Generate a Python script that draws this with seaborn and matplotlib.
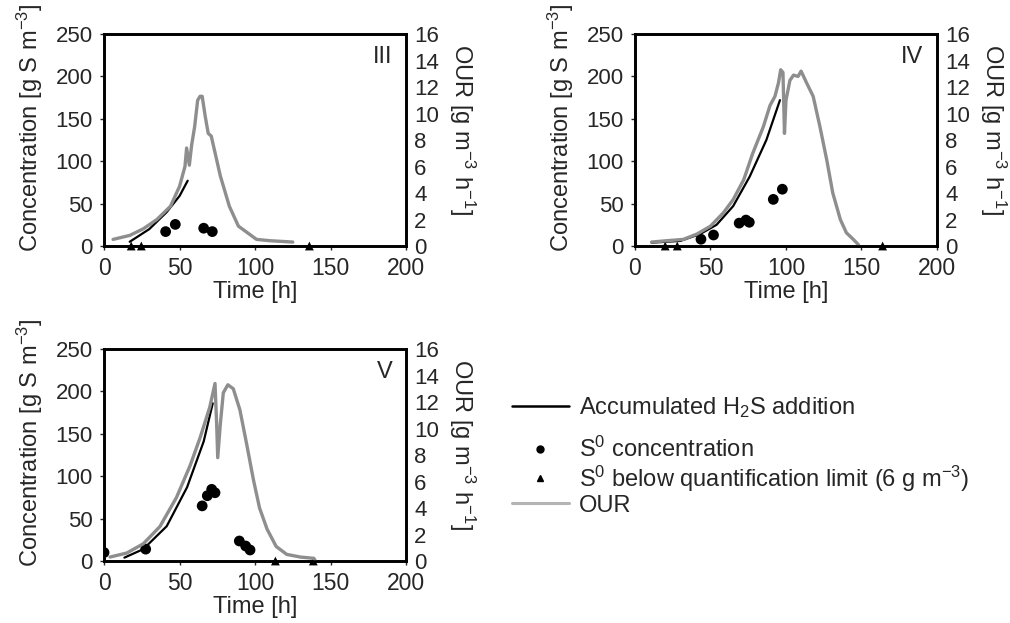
import seaborn as sns
import matplotlib.pyplot as plt
from matplotlib.lines import Line2D

# ---- data ----
# panel III
t_our_3 = [6, 17, 26, 35, 44, 50, 53.6, 54.7, 56.5, 58, 60, 62, 63.6, 65, 67, 69, 71, 72.4, 77, 83, 89, 95, 101, 110, 125]
our_3 = [0.5, 0.8, 1.3, 2.0, 3.0, 4.5, 6.0, 7.4, 6.1, 7.6, 9.0, 11.0, 11.3, 11.3, 9.8, 8.5, 8.3, 7.6, 5.3, 3.0, 1.5, 1.0, 0.5, 0.4, 0.3]
t_h2s_3 = [17, 30, 41.5, 50, 55.4]
h2s_3 = [5, 20, 40, 59, 77]
t_s0_3 = [40.8, 47.2, 66, 71.7]
s0_3 = [17, 25.5, 21, 17]
t_bql_3 = [18, 24.7, 136]

# panel IV
t_our_4 = [11, 21, 32, 41, 50, 58.5, 65, 72, 78, 85, 89.4, 92.7, 95, 96.5, 98, 99, 100, 102.6, 105, 108, 110, 113.7, 118, 122.5, 127, 131, 136, 140, 144.6, 148]
our_4 = [0.3, 0.4, 0.5, 0.9, 1.5, 2.5, 3.5, 5.0, 7.0, 9.0, 10.6, 11.3, 12.3, 13.3, 13.1, 8.5, 11.0, 12.5, 12.9, 12.8, 13.2, 12.3, 11.3, 9.0, 6.5, 4.0, 2.0, 1.0, 0.5, 0.1]
t_h2s_4 = [11, 30, 43, 54, 65, 76, 87, 96]
h2s_4 = [4, 6, 14, 25, 47, 82, 125, 172]
t_s0_4 = [43.7, 52, 69, 73.5, 75.7, 91.6, 97.6]
s0_4 = [8, 13, 27, 30.6, 28, 55, 67]
t_bql_4 = [20, 28, 164]

# panel V
t_our_5 = [4, 15, 26, 37, 48, 57, 63.6, 70, 73.5, 74.6, 75.3, 77, 79, 82, 85.6, 90, 94.5, 99, 103, 108, 114, 121, 130, 139, 140]
our_5 = [0.3, 0.6, 1.3, 2.6, 4.8, 7.2, 9.3, 11.6, 13.4, 10.3, 7.8, 10.3, 12.7, 13.3, 13.0, 11.4, 8.8, 6.1, 4.0, 2.4, 1.1, 0.5, 0.3, 0.2, 0.0]
t_h2s_5 = [13.5, 26, 41.5, 55, 66, 72]
h2s_5 = [4, 14, 41, 87, 141, 186]
t_s0_5 = [0, 27.6, 65, 68.4, 71.3, 73.5, 89.6, 93.8, 96.7]
s0_5 = [10, 14, 65, 77, 84.5, 80.5, 23.6, 17.7, 13]
t_bql_5 = [113.5, 138.6]

panel_names = ["III", "IV", "V"]

sns.set_style("ticks")
plt.rcParams.update({
    "font.family": ["Liberation Sans", "DejaVu Sans"],
    "mathtext.fontset": "custom",
    "mathtext.rm": "Liberation Sans",
    "mathtext.it": "Liberation Sans:italic",
    "font.size": 16,
})

our_col = "#8e8e8e"
fig = plt.figure(figsize=(10.1, 6.23), dpi=100)

positions = [
    [0.1030, 0.6051, 0.2990, 0.3403],
    [0.6287, 0.6051, 0.2990, 0.3403],
    [0.1030, 0.0995, 0.2990, 0.3403],
]
panels = [
    (t_our_3, our_3, t_h2s_3, h2s_3, t_s0_3, s0_3, t_bql_3),
    (t_our_4, our_4, t_h2s_4, h2s_4, t_s0_4, s0_4, t_bql_4),
    (t_our_5, our_5, t_h2s_5, h2s_5, t_s0_5, s0_5, t_bql_5),
]

for pos, name, (t_our, our, t_h2s, h2s, t_s0, s0, t_bql) in zip(positions, panel_names, panels):
    ax = fig.add_axes(pos)
    sns.lineplot(x=t_h2s, y=h2s, ax=ax, color="black", linewidth=1.6)
    sns.scatterplot(x=t_s0, y=s0, ax=ax, color="black", s=60, marker="o", edgecolor="none", zorder=3)
    sns.scatterplot(x=t_bql, y=[0] * len(t_bql), ax=ax, color="black", s=40, marker="^",
                    edgecolor="none", clip_on=False, zorder=4)
    ax.set_xlim(0, 200)
    ax.set_ylim(0, 250)
    ax.set_xticks(range(0, 201, 50))
    ax.set_yticks(range(0, 251, 50))
    ax.set_xlabel("Time [h]", fontsize=17)
    ax.set_ylabel("Concentration [g S m$^{-3}$]", fontsize=17)
    ax.xaxis.set_label_coords(0.5, -0.167)
    ax.yaxis.set_label_coords(-0.195, 0.56)
    ax.tick_params(axis="both", length=3, width=1)
    ax.tick_params(axis="y", pad=5, labelsize=16)
    ax.tick_params(axis="x", pad=5, labelsize=16.5)

    ax2 = ax.twinx()
    sns.lineplot(x=t_our, y=our, ax=ax2, color=our_col, linewidth=2.4)
    ax2.set_ylim(0, 16)
    ax2.set_yticks(range(0, 17, 2))
    ax2.set_ylabel("OUR [g m$^{-3}$ h$^{-1}$]", rotation=270, fontsize=17)
    ax2.yaxis.set_label_coords(1.235, 0.55)
    ax2.tick_params(axis="y", length=0, pad=6, labelsize=16)
    for a in (ax, ax2):
        for sp in a.spines.values():
            sp.set_visible(True)
            sp.set_linewidth(1.9)
            sp.set_color("black")
    ax.text(0.955, 0.89, name, transform=ax.transAxes, ha="right", va="center", fontsize=17)

# legend
h_line = Line2D([], [], color="black", linewidth=1.8)
h_dot = Line2D([], [], color="black", marker="o", linestyle="none", markersize=5)
h_tri = Line2D([], [], color="black", marker="^", linestyle="none", markersize=5)
h_our = Line2D([], [], color="#b4b4b4", linewidth=2.2)

fig.legend([h_line], ["Accumulated H$_2$S addition"], loc="center left",
           bbox_to_anchor=(0.507, 1 - 408 / 623), frameon=False, fontsize=17,
           handlelength=2.4, handletextpad=0.45, borderaxespad=0, borderpad=0)
fig.legend([h_dot, h_tri, h_our],
           ["S$^0$ concentration", "S$^0$ below quantification limit (6 g m$^{-3}$)", "OUR"],
           loc="upper left", bbox_to_anchor=(0.507, 1 - 437 / 623), frameon=False, fontsize=17,
           handlelength=2.4, handletextpad=0.45, labelspacing=0.05, borderaxespad=0, borderpad=0)

plt.savefig("out.png", dpi=100)
